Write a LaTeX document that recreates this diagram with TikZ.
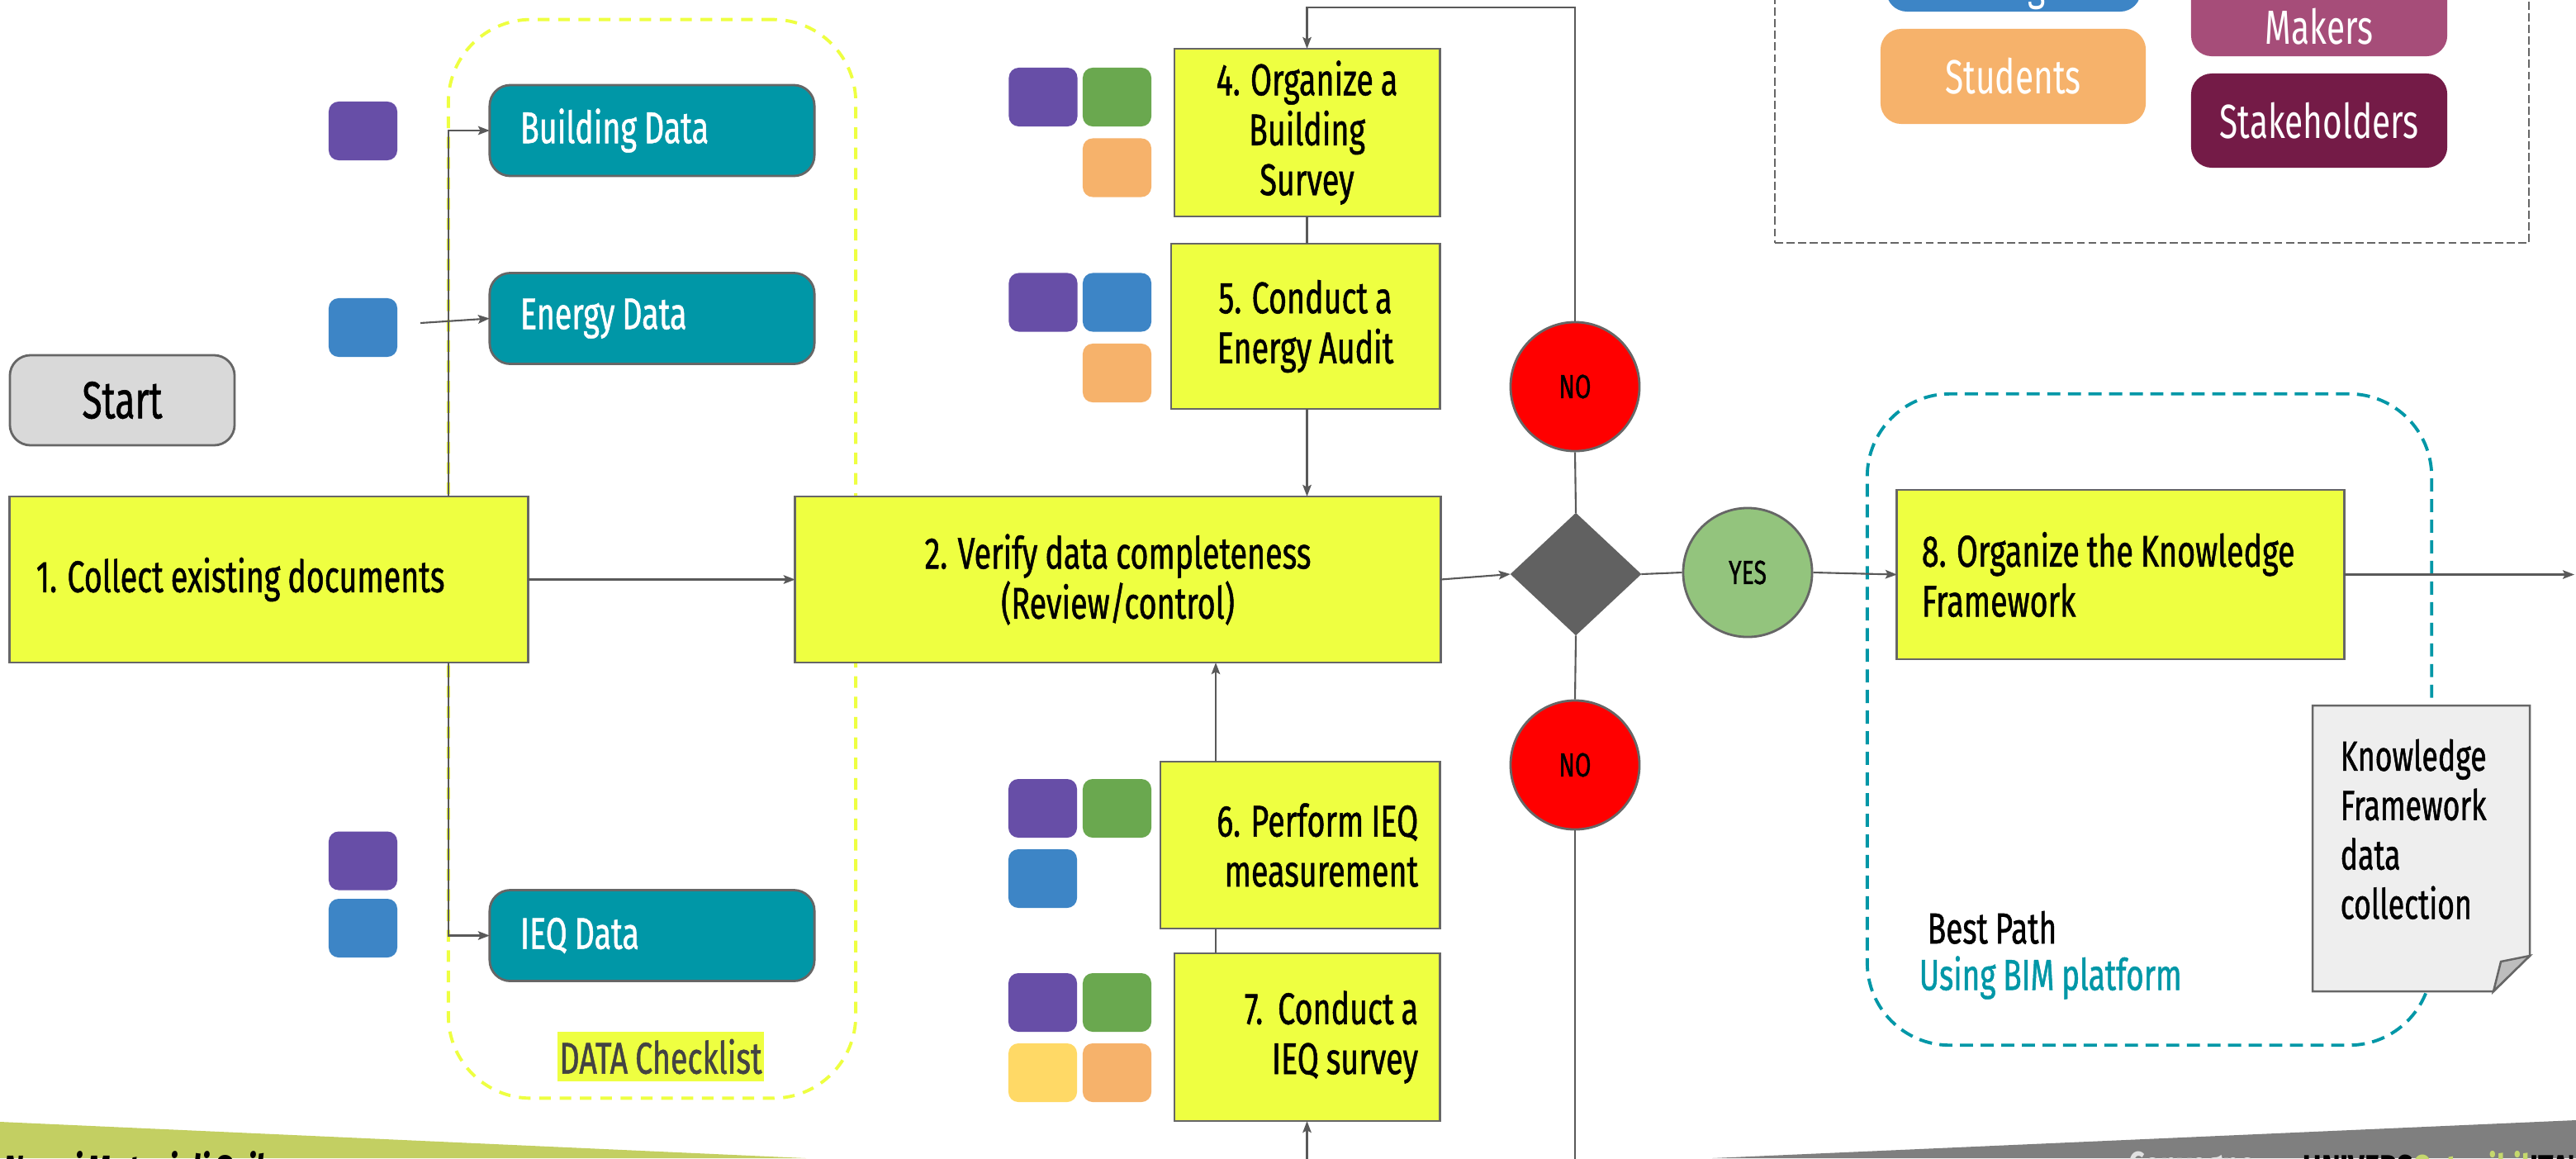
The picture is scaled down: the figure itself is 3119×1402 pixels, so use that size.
\documentclass[tikz,border=0pt]{standalone}
\usepackage{fontspec}
\setmainfont{Fira Sans}[FakeStretch=0.7, WordSpace=0.9, FakeBold=0.9]
\newfontfamily\legendfont{Fira Sans}[FakeStretch=0.7, WordSpace=0.9]
\newfontfamily\footfont{Fira Sans}[FakeStretch=0.75, WordSpace=0.8]
\usetikzlibrary{shapes.geometric,arrows.meta,calc}

\definecolor{stepyellow}{HTML}{EEFF41}
\definecolor{edgegray}{HTML}{595959}
\definecolor{framegray}{HTML}{666666}
\definecolor{tealbox}{HTML}{0097A7}
\definecolor{rolepurple}{HTML}{674EA7}
\definecolor{rolegreen}{HTML}{6AA84F}
\definecolor{roleblue}{HTML}{3D85C6}
\definecolor{roleorange}{HTML}{F6B26B}
\definecolor{roleyellow}{HTML}{FFD966}
\definecolor{makerpink}{HTML}{A64D79}
\definecolor{stakewine}{HTML}{741B47}
\definecolor{startgray}{HTML}{D9D9D9}
\definecolor{yesgreen}{HTML}{93C47D}
\definecolor{nored}{HTML}{FF0000}
\definecolor{diagray}{HTML}{616161}
\definecolor{docgray}{HTML}{EEEEEE}
\definecolor{foldgray}{HTML}{BDBDBD}
\definecolor{footgreen}{HTML}{C3CF62}
\definecolor{footgray}{HTML}{7F7F7F}
\definecolor{labelgray}{HTML}{434343}
\definecolor{brandgreen}{HTML}{C5D86D}

\newcommand\boxtextfont{\fontsize{15.3}{17.2}\selectfont}
\newcommand\roletextfont{\legendfont\fontsize{16.5}{19}\selectfont}

\begin{document}
\begin{tikzpicture}[x=0.01cm,y=-0.01cm,
  conn/.style={draw=edgegray, line width=0.6pt},
  arr/.style={conn, -{Stealth[length=4pt,width=3pt,inset=0.8pt]}},
  stepbox/.style={draw=framegray, line width=0.8pt, fill=stepyellow, inner sep=0pt,
    outer sep=0pt, font=\boxtextfont, text=black},
  databox/.style={draw=framegray, line width=0.8pt, fill=tealbox, rounded corners=0.25cm,
    minimum width=3.93cm, minimum height=1.10cm, text width=3.19cm, inner xsep=0.37cm,
    inner ysep=0pt, outer sep=0pt, align=flush left, text=white, font=\boxtextfont},
  role/.style={rounded corners=0.12cm, minimum width=0.83cm, minimum height=0.71cm,
    inner sep=0pt, outer sep=0pt},
  rolebox/.style={rounded corners=0.25cm, minimum width=3.08cm, minimum height=1.15cm,
    inner sep=0pt, text=white, font=\roletextfont},
  roletext/.style={inner sep=0pt, text=white, font=\roletextfont},
  decision/.style={circle, minimum size=1.56cm, inner sep=0pt, draw=framegray,
    line width=0.8pt, font=\fontsize{11.5}{13}\selectfont},
  footer/.style={anchor=north west, inner sep=0pt,
    font=\footfont\bfseries\fontsize{13}{15}\selectfont},
]
\useasboundingbox (0,0) rectangle (3119,1402);
\clip (0,0) rectangle (3119,1402);
\fill[white] (0,0) rectangle (3119,1402);

% footer bands
\fill[footgreen] (0,1358) -- (976,1402) -- (0,1402) -- cycle;
\fill[footgray] (2073,1402) -- (3119,1356) -- (3119,1402) -- cycle;
\node[footer, font=\footfont\bfseries\itshape\fontsize{14}{16}\selectfont] (foottitle) at (4,1393) {Nuovi Motori di Sviluppo};
\node[footer, text=white!88!black] (conv) at (2577,1393) {Convegno};
\node[footer] (univ) at (2788,1393) {UNIVERS\textcolor{brandgreen}{Ostenibil}ITA'};

% group frames
\node[draw=stepyellow, line width=1.1pt, dash pattern=on 4pt off 3pt, rounded corners=1cm,
  minimum width=4.93cm, minimum height=13.05cm, inner sep=0pt] (checkframe) at (789.5,676.5) {};
\node[draw=tealbox, line width=1.1pt, dash pattern=on 4.5pt off 2.6pt, rounded corners=1cm,
  minimum width=6.83cm, minimum height=7.88cm, inner sep=0pt] (bimframe) at (2602.5,871) {};
\node[draw=framegray, line width=0.6pt, dash pattern=on 2.8pt off 1.2pt,
  minimum width=9.13cm, minimum height=3.54cm, inner sep=0pt] (legend) at (2605.5,117) {};

% legend
\node[rolebox, fill=roleblue] (lgblue) at (2438,-43.5) {};
\node[roletext, anchor=base] (lgbluetxt) at (2444,-1) {Managers};
\node[rolebox, fill=roleorange, minimum width=3.21cm] (lgstud) at (2437.5,92.5) {Students};
\node[rolebox, fill=makerpink, minimum width=3.10cm, minimum height=1.25cm] (lgmake) at (2808,5.5) {};
\node[roletext, anchor=base] (lgmaketxt) at (2808,53) {Makers};
\node[rolebox, fill=stakewine, minimum width=3.10cm, minimum height=1.14cm] (lgstake) at (2808,146) {Stakeholders};

% process steps
\node[stepbox, fill=startgray, rounded corners=0.25cm, minimum width=2.72cm, minimum height=1.09cm,
  font=\fontsize{18}{20}\selectfont] (start) at (148,484.5) {Start};
\node[stepbox, minimum width=6.27cm, minimum height=2.01cm, text width=5.63cm, inner xsep=0.32cm,
  align=flush left] (b1) at (325.5,701.5) {1. Collect existing documents};
\node[stepbox, minimum width=7.81cm, minimum height=2.01cm, align=center] (b2) at (1353.5,701.5)
  {2. Verify data completeness\\(Review/control)};
\node[stepbox, minimum width=3.21cm, minimum height=2.03cm, align=center] (b4) at (1582.5,160.5)
  {4. Organize a\\Building\\Survey};
\node[stepbox, minimum width=3.25cm, minimum height=2.00cm, align=center] (b5) at (1580.5,395)
  {5. Conduct a\\Energy Audit};
\node[stepbox, minimum width=3.38cm, minimum height=2.02cm, text width=2.86cm, inner xsep=0.26cm,
  align=flush right] (b6) at (1574,1023) {6. Perform IEQ\\measurement};
\node[stepbox, minimum width=3.21cm, minimum height=2.03cm, text width=2.69cm, inner xsep=0.26cm,
  align=flush right] (b7) at (1582.5,1255.5) {7.\ \ Conduct a\\IEQ survey};
\node[stepbox, minimum width=5.41cm, minimum height=2.05cm, text width=4.81cm, inner xsep=0.30cm,
  align=flush left] (b8) at (2567.5,695.5) {8. Organize the Knowledge\\Framework};

% data checklist
\node[databox] (bdata) at (789.5,158) {Building Data};
\node[databox] (edata) at (789.5,385.5) {Energy Data};
\node[databox] (idata) at (789.5,1132.5) {IEQ Data};
\node[fill=stepyellow, text=labelgray, inner sep=0pt, minimum width=2.50cm, minimum height=0.60cm,
  font=\boxtextfont] (checklabel) at (800,1279) {DATA Checklist};

% decision
\node[diamond, fill=diagray, draw=diagray, minimum width=1.57cm, minimum height=1.47cm,
  inner sep=0pt] (dia) at (1908,695) {};
\node[decision, fill=yesgreen] (yes) at (2116,693) {YES};
\node[decision, fill=nored] (no1) at (1907,468) {NO};
\node[decision, fill=nored] (no2) at (1907,926) {NO};

% actors next to each step
\node[role, fill=rolepurple] (sqB) at (439.5,158.5) {};
\node[role, fill=roleblue] (sqE) at (439.5,396.5) {};
\node[role, fill=rolepurple] (sqIa) at (439.5,1042) {};
\node[role, fill=roleblue] (sqIb) at (439.5,1123.5) {};
\node[role, fill=rolepurple] (s4a) at (1263,117.5) {};
\node[role, fill=rolegreen] (s4b) at (1352.5,117.5) {};
\node[role, fill=roleorange] (s4c) at (1352.5,203) {};
\node[role, fill=rolepurple] (s5a) at (1263,366) {};
\node[role, fill=roleblue] (s5b) at (1352.5,366) {};
\node[role, fill=roleorange] (s5c) at (1352.5,451.5) {};
\node[role, fill=rolepurple] (s6a) at (1262.5,978.5) {};
\node[role, fill=rolegreen] (s6b) at (1352.5,978.5) {};
\node[role, fill=roleblue] (s6c) at (1262.5,1063.5) {};
\node[role, fill=rolepurple] (s7a) at (1262.5,1213.5) {};
\node[role, fill=rolegreen] (s7b) at (1352.5,1213.5) {};
\node[role, fill=roleyellow] (s7c) at (1262.5,1298.5) {};
\node[role, fill=roleorange] (s7d) at (1352.5,1298.5) {};

% knowledge framework document
\filldraw[fill=docgray, draw=framegray, line width=0.7pt]
  (2800,854) -- (3063,854) -- (3063,1157) -- (3019,1200) -- (2800,1200) -- cycle;
\filldraw[fill=foldgray, draw=framegray, line width=0.7pt]
  (3063,1157) -- (3028,1164) -- (3019,1200) -- cycle;
\node[anchor=north west, align=flush left, inner sep=0pt, font=\fontsize{14.5}{17}\selectfont]
  (doc) at (2833,894) {Knowledge\\Framework\\data\\collection};

\node[anchor=north west, align=flush left, inner sep=0pt, font=\fontsize{15}{16}\selectfont]
  (bestpath) at (2323,1102) {\hspace{0.1cm}Best Path\\\textcolor{tealbox}{Using BIM platform}};

% connectors
\coordinate (trunk) at (543,0);
\coordinate (spine) at (1472,0);
\coordinate (looptop) at (1908,9);
\coordinate (loopbot) at (1908,1440);
\coordinate (out) at (3117,700);

\draw[arr] (b1.north -| trunk) |- (bdata.west);
\draw[arr] (b1.south -| trunk) |- (idata.west);
\draw[arr] ([xshift=0.28cm,yshift=0.055cm]sqE.east) -- (edata.west);
\draw[arr] (b1.east) -- (b2.west);
\draw[arr] (b2.east) -- (dia.west);
\draw[conn] (dia.east) -- (yes.west);
\draw[arr] (yes.east) -- (b8.west);
\draw[arr] (b8.east) -- (b8.east -| out);
\draw[conn] (dia.north) -- (no1.south);
\draw[arr] (no1.north) -- (no1.north |- looptop) -| (b4.north);
\draw[conn] (dia.south) -- (no2.north);
\draw[arr] (no2.south) -- (no2.south |- loopbot) -| (b7.south);
\draw[conn] (b4.south) -- (b4.south |- b5.north);
\draw[arr] (b4.south |- b5.south) -- (b4.south |- b2.north);
\draw[arr] (b6.north -| spine) -- (b2.south -| spine);
\draw[conn] (b7.north -| spine) -- (b6.south -| spine);
\end{tikzpicture}
\end{document}
